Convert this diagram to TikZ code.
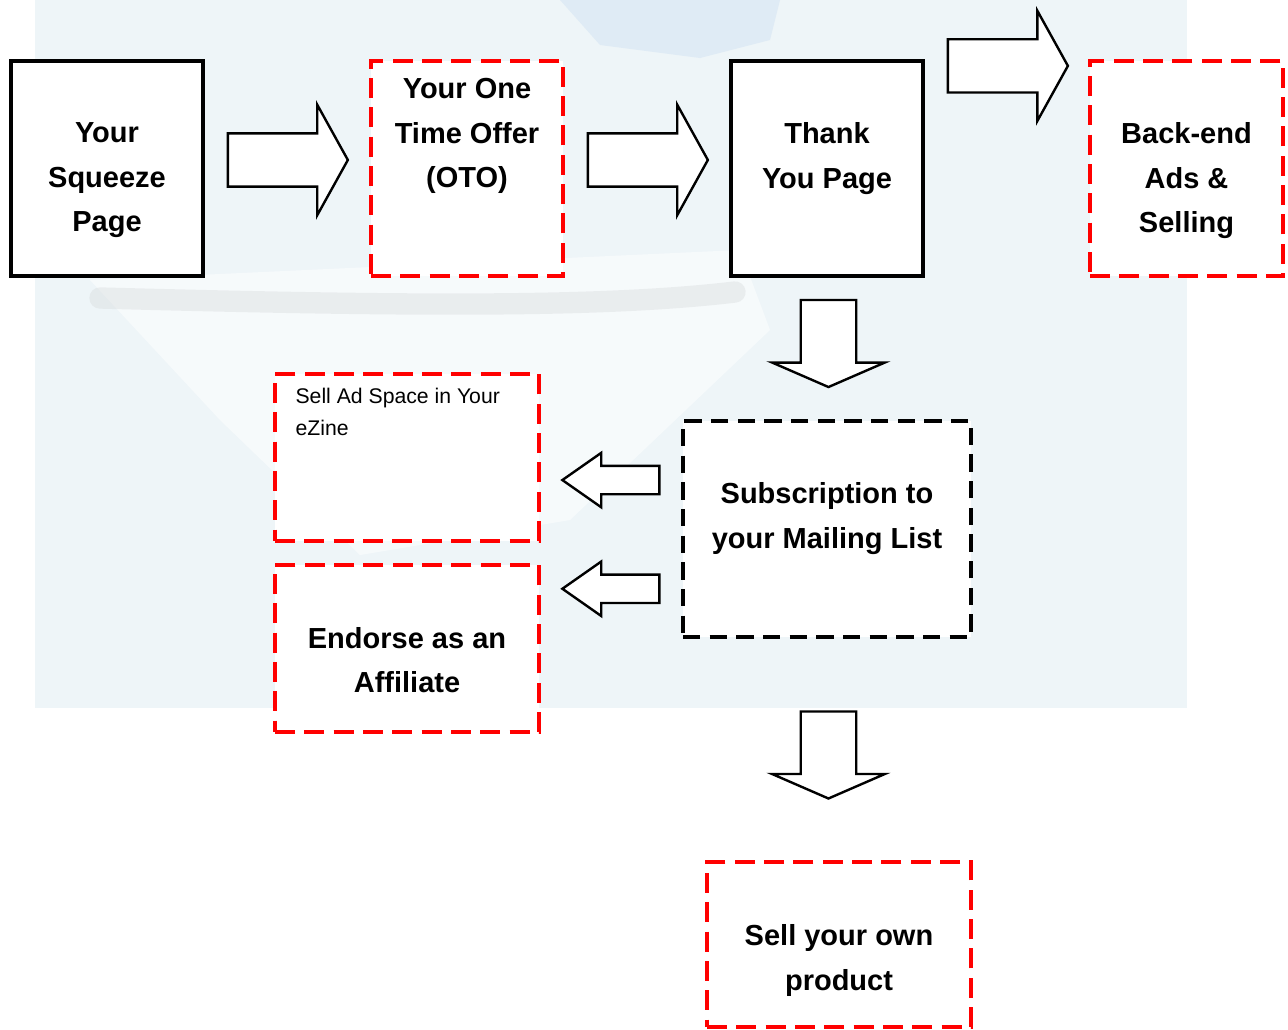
\documentclass[tikz,border=0pt]{standalone}
\usepackage{fontspec}
\setmainfont{Liberation Sans}
\usetikzlibrary{shapes.arrows,calc}

\definecolor{wmback}{HTML}{EEF5F8}
\definecolor{wmblue}{HTML}{D9E7F4}
\definecolor{wmgrey}{HTML}{D3D6D8}
\definecolor{dashred}{HTML}{FF0000}

\tikzset{
  plainbox/.style={draw=black, line width=2.5pt, fill=white, inner sep=0pt},
  redbox/.style={draw=dashred, line width=2.5pt, dash pattern=on 15pt off 7pt, fill=white, inner sep=0pt},
  dashbox/.style={draw=black, line width=2.5pt, dash pattern=on 13pt off 7pt, fill=white, inner sep=0pt},
  bigtext/.style={font=\fontsize{21.75pt}{33.4pt}\selectfont\bfseries, align=center, inner sep=0pt, anchor=north},
  smalltext/.style={font=\fontsize{15.9pt}{24pt}\selectfont, align=left, inner sep=0pt, anchor=north west},
  fatarrow/.style={single arrow, draw=black, fill=white, line width=1.8pt, inner xsep=0pt, inner ysep=19.1pt,
    single arrow head extend=21.4pt, single arrow tip angle=122, minimum height=90pt},
  downarrow/.style={fatarrow, shape border rotate=270, minimum height=65.25pt, inner ysep=0pt, inner xsep=19.9pt,
    single arrow tip angle=133},
  leftarrow/.style={fatarrow, shape border rotate=180, minimum height=72.75pt, inner ysep=9.75pt,
    single arrow head extend=9.75pt, single arrow tip angle=70}
}

\begin{document}
\begin{tikzpicture}[x=0.75pt, y=-0.75pt]
    \useasboundingbox (0,0) rectangle (1288,1029);

    % faded picture behind
    \fill[wmback] (35,0) rectangle (1187,708);
    \fill[wmblue, opacity=.7] (560,0) -- (780,0) -- (770,40) -- (700,58) -- (600,45) -- cycle;
    \fill[white, opacity=.5] (90,280) -- (740,250) -- (770,330) -- (570,520) -- (360,555) -- (220,420) -- cycle;
    \draw[wmgrey, line width=16pt, line cap=round, opacity=.35] (100,298) .. controls (400,306) and (600,308) .. (735,292);

    % top row
    \node[plainbox, minimum width=144pt, minimum height=161.25pt,
      label={[bigtext, yshift=-47.25pt]north:Your\\Squeeze\\Page}] (squeeze) at (107,168.5) {};
    \node[redbox, minimum width=144pt, minimum height=161.25pt,
      label={[bigtext, yshift=-14.25pt]north:Your One\\Time Offer\\(OTO)}] (oto) at (467,168.5) {};
    \node[plainbox, minimum width=144pt, minimum height=161.25pt,
      label={[bigtext, yshift=-47.25pt]north:Thank\\You Page}] (thanks) at (827,168.5) {};
    \node[redbox, minimum width=144.75pt, minimum height=161.25pt,
      label={[bigtext, yshift=-47.25pt]north:Back-end\\Ads \&\\Selling}] (backend) at (1186.5,168.5) {};

    % middle
    \node[redbox, minimum width=198pt, minimum height=125.25pt,
      label={[smalltext, xshift=16.5pt, yshift=-11.75pt]north west:Sell Ad Space in Your\\eZine}] (adspace) at (407,457.5) {};
    \node[redbox, minimum width=198pt, minimum height=125.25pt,
      label={[bigtext, yshift=-47.75pt]north:Endorse as an\\Affiliate}] (endorse) at (407,648.5) {};
    \node[dashbox, minimum width=216pt, minimum height=162pt,
      label={[bigtext, yshift=-47.5pt]north:Subscription to\\your Mailing List}] (mailing) at (827,529) {};

    % bottom
    \node[redbox, minimum width=198pt, minimum height=123.75pt,
      label={[bigtext, yshift=-48pt]north:Sell your own\\product}] (product) at (839,944.5) {};

    % block arrows
    \node[fatarrow, xshift=-4.9pt, yshift=6.4pt] (toOto) at ($(squeeze.east)!.5!(oto.west)$) {};
    \node[fatarrow, xshift=-4.9pt, yshift=6.4pt] (toThanks) at ($(oto.east)!.5!(thanks.west)$) {};
    \node[fatarrow, xshift=-4.5pt, yshift=-4.9pt] (toBackend) at ($(thanks.north east)!.5!(backend.north west)$) {};
    \node[downarrow, yshift=8.25pt, xshift=1.1pt] (toMailing) at ($(thanks.south)!.5!(mailing.north)$) {};
    \node[leftarrow, xshift=7.5pt, yshift=9.9pt] (toAdspace) at ($(adspace.east)!.5!(mailing.west)$) {};
    \node[leftarrow, xshift=7.5pt] (toEndorse) at ($(endorse.east)!.5!(mailing.west)$) {};
    \node[downarrow, yshift=0.4pt, xshift=-3.4pt] (toProduct) at ($(mailing.south)!.5!(product.north)$) {};
\end{tikzpicture}
\end{document}
